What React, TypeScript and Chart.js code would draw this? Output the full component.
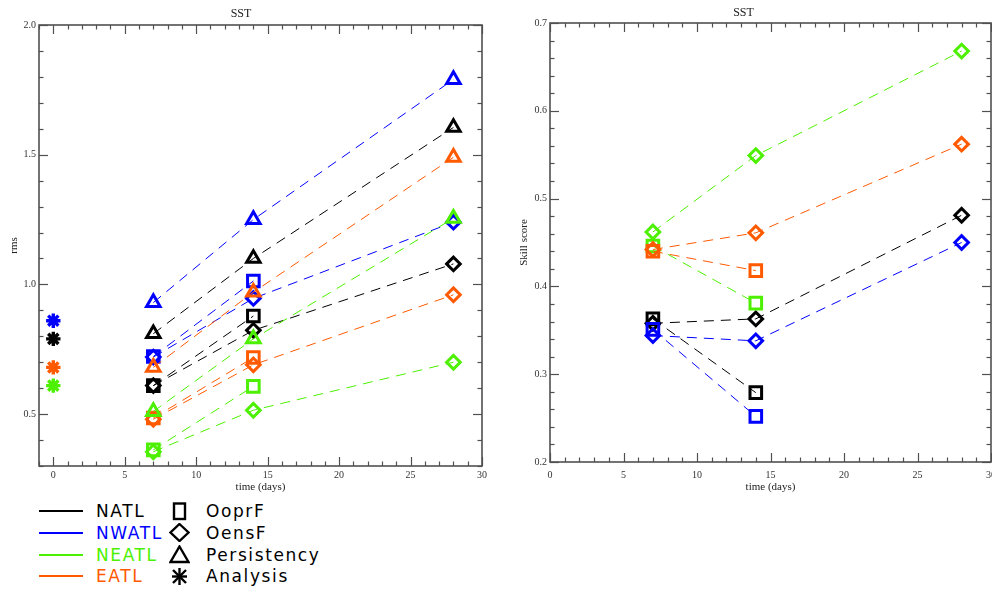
import React, { useEffect, useRef } from 'react';
import { Chart, registerables } from 'chart.js';

Chart.register(...registerables);

// ---------------- data ----------------
const REGIONS = ['NATL', 'NWATL', 'NEATL', 'EATL'];
const REGION_COLORS = ['#000000', '#0000ff', '#4cf000', '#ff5a00'];
const METHODS = ['OoprF', 'OensF', 'Persistency', 'Analysis'];

const FORECAST_DAYS = [7, 14, 28];
const OOPRF_DAYS = [7, 14];
const ANALYSIS_DAYS = [0];

// Left panel: rms (values by region: NATL, NWATL, NEATL, EATL)
const RMS_ANALYSIS = [0.79, 0.86, 0.61, 0.68];
const RMS_PERSIST_NATL = [0.81, 1.1, 1.605];
const RMS_PERSIST_NWATL = [0.93, 1.25, 1.79];
const RMS_PERSIST_NEATL = [0.51, 0.79, 1.255];
const RMS_PERSIST_EATL = [0.68, 0.97, 1.49];
const RMS_OENSF_NATL = [0.61, 0.823, 1.079];
const RMS_OENSF_NWATL = [0.72, 0.946, 1.24];
const RMS_OENSF_NEATL = [0.355, 0.515, 0.7];
const RMS_OENSF_EATL = [0.48, 0.69, 0.96];
const RMS_OOPRF_NATL = [0.61, 0.878];
const RMS_OOPRF_NWATL = [0.722, 1.013];
const RMS_OOPRF_NEATL = [0.362, 0.607];
const RMS_OOPRF_EATL = [0.485, 0.718];

// Right panel: skill score
const SKILL_OENSF_NATL = [0.358, 0.363, 0.481];
const SKILL_OENSF_NWATL = [0.344, 0.338, 0.45];
const SKILL_OENSF_NEATL = [0.462, 0.549, 0.668];
const SKILL_OENSF_EATL = [0.442, 0.461, 0.562];
const SKILL_OOPRF_NATL = [0.363, 0.279];
const SKILL_OOPRF_NWATL = [0.351, 0.252];
const SKILL_OOPRF_NEATL = [0.446, 0.381];
const SKILL_OOPRF_EATL = [0.44, 0.418];

// tick labels
const X_TICKS = [0, 5, 10, 15, 20, 25, 30];
const RMS_TICKS = [0.5, 1.0, 1.5, 2.0];
const SKILL_TICKS = [0.2, 0.3, 0.4, 0.5, 0.6, 0.7];

// ---------------- styling ----------------
const SERIF = '"Liberation Serif", "Times New Roman", serif';
const SANS = '"DejaVu Sans", sans-serif';
const AXIS_COLOR = '#505050';
const TEXT_COLOR = '#333333';
const DASH = [10, 7];

const pts = (days: number[], vals: number[]) => days.map((d, i) => ({ x: d, y: vals[i] }));

function ds(days: number[], vals: number[], color: string, style: string, radius: number, line: boolean, bw = 3) {
  return {
    data: pts(days, vals),
    borderColor: color,
    backgroundColor: 'rgba(0,0,0,0)',
    borderWidth: 1,
    borderDash: DASH,
    showLine: line,
    pointStyle: style,
    pointRadius: radius,
    pointBorderWidth: bw,
    pointBorderColor: color,
    pointBackgroundColor: 'rgba(0,0,0,0)',
  };
}

const SQ = 'rect';
const DI = 'rectRot';
const TR = 'triangle';
const ST = 'star';
const R_SQ = 8.2;
const R_DI = 6.8;
const R_TR = 7.8;
const R_ST = 7.2;

function rmsDatasets() {
  const c = REGION_COLORS;
  const list = [
    ds(FORECAST_DAYS, RMS_OENSF_NATL, c[0], DI, R_DI, true),
    ds(FORECAST_DAYS, RMS_OENSF_NWATL, c[1], DI, R_DI, true),
    ds(FORECAST_DAYS, RMS_OENSF_NEATL, c[2], DI, R_DI, true),
    ds(FORECAST_DAYS, RMS_OENSF_EATL, c[3], DI, R_DI, true),
    ds(OOPRF_DAYS, RMS_OOPRF_NATL, c[0], SQ, R_SQ, true),
    ds(OOPRF_DAYS, RMS_OOPRF_NWATL, c[1], SQ, R_SQ, true),
    ds(OOPRF_DAYS, RMS_OOPRF_NEATL, c[2], SQ, R_SQ, true),
    ds(OOPRF_DAYS, RMS_OOPRF_EATL, c[3], SQ, R_SQ, true),
    ds(FORECAST_DAYS, RMS_PERSIST_NATL, c[0], TR, R_TR, true),
    ds(FORECAST_DAYS, RMS_PERSIST_NWATL, c[1], TR, R_TR, true),
    ds(FORECAST_DAYS, RMS_PERSIST_NEATL, c[2], TR, R_TR, true),
    ds(FORECAST_DAYS, RMS_PERSIST_EATL, c[3], TR, R_TR, true),
    ...RMS_ANALYSIS.map((v, i) => ds(ANALYSIS_DAYS, [v], c[i], ST, R_ST, false, 3.4)),
  ];
  return list.map((d, i) => ({ ...d, order: list.length - i }));
}

function skillDatasets() {
  const c = REGION_COLORS;
  const list = [
    ds(FORECAST_DAYS, SKILL_OENSF_NATL, c[0], DI, R_DI, true),
    ds(FORECAST_DAYS, SKILL_OENSF_NEATL, c[2], DI, R_DI, true),
    ds(OOPRF_DAYS, SKILL_OOPRF_NATL, c[0], SQ, R_SQ, true),
    ds(OOPRF_DAYS, SKILL_OOPRF_NEATL, c[2], SQ, R_SQ, true),
    ds(FORECAST_DAYS, SKILL_OENSF_NWATL, c[1], DI, R_DI, true),
    ds(FORECAST_DAYS, SKILL_OENSF_EATL, c[3], DI, R_DI, true),
    ds(OOPRF_DAYS, SKILL_OOPRF_NWATL, c[1], SQ, R_SQ, true),
    ds(OOPRF_DAYS, SKILL_OOPRF_EATL, c[3], SQ, R_SQ, true),
  ];
  return list.map((d, i) => ({ ...d, order: list.length - i }));
}

// frame with inward ticks on all four sides
const frameTicks = {
  id: 'frameTicks',
  afterDatasetsDraw(chart: any, _args: any, opts: any) {
    const { ctx, chartArea: a, scales } = chart;
    const xs = scales.x;
    const ys = scales.y;
    ctx.save();
    ctx.strokeStyle = AXIS_COLOR;
    ctx.lineWidth = 1.6;
    ctx.setLineDash([]);
    ctx.strokeRect(a.left, a.top, a.right - a.left, a.bottom - a.top);
    ctx.lineWidth = 1.2;
    const seg = (x1: number, y1: number, x2: number, y2: number) => {
      ctx.beginPath();
      ctx.moveTo(x1, y1);
      ctx.lineTo(x2, y2);
      ctx.stroke();
    };
    const each = (min: number, max: number, step: number, every: number, fn: (v: number, major: boolean) => void) => {
      const k0 = Math.ceil(min / step - 1e-9);
      const k1 = Math.floor(max / step + 1e-9);
      for (let k = k0; k <= k1; k++) fn(k * step, k % every === 0);
    };
    each(xs.min, xs.max, opts.xStep, opts.xEvery, (v, major) => {
      const p = Math.round(xs.getPixelForValue(v)) + 0.5;
      const len = major ? 9 : 4.5;
      seg(p, a.bottom, p, a.bottom - len);
      seg(p, a.top, p, a.top + len);
    });
    each(ys.min, ys.max, opts.yStep, opts.yEvery, (v, major) => {
      const p = Math.round(ys.getPixelForValue(v)) + 0.5;
      const len = major ? 9 : 4.5;
      seg(a.left, p, a.left + len, p);
      seg(a.right, p, a.right - len, p);
    });
    ctx.restore();
  },
};

interface PanelCfg {
  datasets: any[];
  xMin: number; xMax: number; yMin: number; yMax: number;
  yTicks: number[]; yTitle: string;
  yWidth: number; xHeight: number; padRight: number;
  titleTop: number; titleBottom: number;
  xTickPad: number; yTitlePad: number;
  yStep: number; yEvery: number;
}

function buildConfig(p: PanelCfg): any {
  const tickFont = { family: SERIF, size: 10 };
  const titleFont = { family: SERIF, size: 11 };
  return {
    type: 'scatter',
    data: { datasets: p.datasets },
    plugins: [frameTicks],
    options: {
      animation: false,
      responsive: false,
      events: [],
      layout: { padding: { left: 0, right: p.padRight, top: 0, bottom: 0 } },
      plugins: {
        legend: { display: false },
        tooltip: { enabled: false },
        title: {
          display: true,
          text: 'SST',
          color: '#222222',
          font: { family: SERIF, size: 12, weight: 'normal' },
          padding: { top: p.titleTop, bottom: p.titleBottom },
        },
        frameTicks: { xStep: 1, xEvery: 5, yStep: p.yStep, yEvery: p.yEvery },
      },
      scales: {
        x: {
          type: 'linear',
          min: p.xMin,
          max: p.xMax,
          grid: { display: false, drawTicks: false },
          border: { display: false },
          ticks: {
            font: tickFont,
            color: TEXT_COLOR,
            padding: p.xTickPad,
            maxRotation: 0,
            autoSkip: false,
            callback: (v: any) => String(v),
          },
          afterBuildTicks: (s: any) => {
            s.ticks = X_TICKS.map((v) => ({ value: v }));
          },
          afterFit: (s: any) => {
            s.height = p.xHeight;
            s.paddingLeft = 0;
            s.paddingRight = 0;
          },
          title: {
            display: true,
            text: 'time (days)',
            color: '#222222',
            font: titleFont,
            padding: { top: 0, bottom: 6.4 },
          },
        },
        y: {
          type: 'linear',
          min: p.yMin,
          max: p.yMax,
          grid: { display: false, drawTicks: false },
          border: { display: false },
          ticks: {
            font: tickFont,
            color: TEXT_COLOR,
            padding: 3,
            autoSkip: false,
            callback: (v: any) => Number(v).toFixed(1),
          },
          afterBuildTicks: (s: any) => {
            s.ticks = p.yTicks.map((v) => ({ value: v }));
          },
          afterFit: (s: any) => {
            s.width = p.yWidth;
            s.paddingTop = 0;
            s.paddingBottom = 0;
          },
          title: {
            display: true,
            text: p.yTitle,
            color: '#222222',
            font: titleFont,
            padding: { top: p.yTitlePad, bottom: 0 },
          },
        },
      },
    },
  };
}

function Panel({ cfg, left, width }: { cfg: () => any; left: number; width: number }) {
  const ref = useRef<HTMLCanvasElement>(null);
  useEffect(() => {
    const chart = new Chart(ref.current as HTMLCanvasElement, cfg());
    return () => chart.destroy();
  }, []);
  return (
    <canvas
      ref={ref}
      width={width}
      height={500}
      style={{ position: 'absolute', left, top: 0, width, height: 500 }}
    />
  );
}

// ---------------- legend ----------------
function Sym({ kind }: { kind: number }) {
  const sw = 2.4;
  let el: any = null;
  if (kind === 0) el = <rect x={5} y={1.5} width={11} height={15.5} fill="none" stroke="#000" strokeWidth={sw} />;
  if (kind === 1) el = <polygon points="10.5,1 19.5,9.5 10.5,18 1.5,9.5" fill="none" stroke="#000" strokeWidth={sw} />;
  if (kind === 2) el = <polygon points="10.5,1.5 19.5,17 1.5,17" fill="none" stroke="#000" strokeWidth={sw} />;
  if (kind === 3)
    el = (
      <g stroke="#000" strokeWidth={2.4}>
        <line x1={10.5} y1={1} x2={10.5} y2={18} />
        <line x1={4} y1={3} x2={17} y2={16} />
        <line x1={17} y1={3} x2={4} y2={16} />
        <line x1={3} y1={9.5} x2={18} y2={9.5} />
      </g>
    );
  return (
    <svg width={21} height={19} style={{ position: 'absolute', left: 0, top: 0 }}>
      {el}
    </svg>
  );
}

function Legend() {
  const rowY = (i: number) => 511 + i * 21.8;
  const textStyle = (color: string, left: number, y: number): React.CSSProperties => ({
    position: 'absolute',
    left,
    top: y - 10,
    height: 20,
    lineHeight: '20px',
    fontFamily: SANS,
    fontWeight: 400,
    fontSize: 17,
    letterSpacing: '1.6px',
    color,
    whiteSpace: 'nowrap',
  });
  return (
    <>
      {REGIONS.map((r, i) => (
        <React.Fragment key={r}>
          <div
            style={{
              position: 'absolute',
              left: 39,
              top: rowY(i) - 1,
              width: 44,
              height: 2,
              background: REGION_COLORS[i],
            }}
          />
          <div style={textStyle(REGION_COLORS[i], 96, rowY(i))}>{r}</div>
        </React.Fragment>
      ))}
      {METHODS.map((m, i) => (
        <React.Fragment key={m}>
          <div style={{ position: 'absolute', left: 168.5, top: rowY(i) - 9.5, width: 21, height: 19 }}>
            <Sym kind={i} />
          </div>
          <div style={textStyle('#000000', 206, rowY(i))}>{m}</div>
        </React.Fragment>
      ))}
    </>
  );
}

export default function App() {
  const rmsCfg = () =>
    buildConfig({
      datasets: rmsDatasets(),
      xMin: -1, xMax: 30, yMin: 0.3, yMax: 2.0,
      yTicks: RMS_TICKS, yTitle: 'rms',
      yWidth: 39, xHeight: 34, padRight: 14,
      titleTop: 7, titleBottom: 3.6,
      xTickPad: 3.3, yTitlePad: 7.4,
      yStep: 0.1, yEvery: 5,
    });
  const skillCfg = () =>
    buildConfig({
      datasets: skillDatasets(),
      xMin: 0, xMax: 30, yMin: 0.2, yMax: 0.7,
      yTicks: SKILL_TICKS, yTitle: 'Skill score',
      yWidth: 54, xHeight: 38, padRight: 25,
      titleTop: 6, titleBottom: 2.6,
      xTickPad: 7.3, yTitlePad: 21.4,
      yStep: 0.02, yEvery: 5,
    });
  return (
    <div
      style={{
        position: 'absolute',
        left: 0,
        top: 0,
        width: 992,
        height: 591,
        background: '#ffffff',
        overflow: 'hidden',
      }}
    >
      <Panel cfg={rmsCfg} left={0} width={496} />
      <Panel cfg={skillCfg} left={496} width={520} />
      <Legend />
    </div>
  );
}
